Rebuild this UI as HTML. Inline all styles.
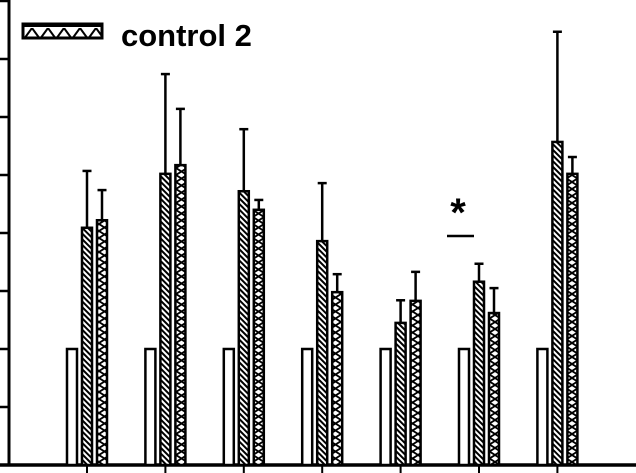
<!DOCTYPE html>
<html><head><meta charset="utf-8"><style>
html,body{margin:0;padding:0;background:#fff;}
svg{display:block;}
</style></head><body>
<svg id="chart" width="636" height="473" viewBox="0 0 636 473" xmlns="http://www.w3.org/2000/svg">
<defs>
<pattern id="hatch" patternUnits="userSpaceOnUse" width="4" height="4" patternTransform="rotate(-45)">
<rect width="4" height="4" fill="#fff"/><rect width="2" height="4" fill="#000"/>
</pattern>
<pattern id="cross" patternUnits="userSpaceOnUse" width="11" height="14">
<rect width="11" height="14" fill="#fff"/>
<path d="M0,0 L11,7 L0,14 M11,0 L0,7 L11,14" stroke="#000" stroke-width="1.8" fill="none"/>
</pattern>
<pattern id="crossh" patternUnits="userSpaceOnUse" width="16" height="14">
<rect width="16" height="14" fill="#fff"/>
<path d="M0,0 L8,11 L16,0 M0,12 L16,12" stroke="#000" stroke-width="2" fill="none"/>
</pattern>
</defs>
<g id="axes"></g>
<g id="bars"></g>
<g>
<rect x="23" y="24" width="79" height="14" fill="url(#crossh)" stroke="#000" stroke-width="3"/>
<text x="121" y="46" font-family="Liberation Sans, sans-serif" font-weight="bold" font-size="31">control 2</text>
</g>
<g>
<text x="458" y="226" text-anchor="middle" font-family="Liberation Sans, sans-serif" font-weight="bold" font-size="40">*</text>
<line x1="447" y1="236" x2="474" y2="236" stroke="#000" stroke-width="2.5"/>
</g>
</svg>
<script>
const groups = ["g1","g2","g3","g4","g5","g6","g7"];
const control1 = [2.0,2.0,2.0,2.0,2.0,2.0,2.0];
const treated = [4.09,5.02,4.72,3.86,2.45,3.16,5.57];
const treatedErr = [0.98,1.72,1.07,1.0,0.39,0.31,1.9];
const control2 = [4.22,5.17,4.40,2.98,2.83,2.62,5.02];
const control2Err = [0.52,0.97,0.17,0.31,0.5,0.43,0.29];
const yTicks = [0,1,2,3,4,5,6,7,8];

const NS="http://www.w3.org/2000/svg";
const y0=465, unit=58, x0=87, step=78.4;
const y = v => y0 - v*unit;
const xc = i => x0 + i*step;
function mk(tag, attrs, parent){const e=document.createElementNS(NS,tag);for(const k in attrs)e.setAttribute(k,attrs[k]);parent.appendChild(e);return e;}
const axes=document.getElementById('axes'), bars=document.getElementById('bars');

let ax=mk('line',{x1:9,y1:0,x2:9,y2:466,stroke:'#000','stroke-width':3},axes);


let bx=mk('line',{x1:0,y1:y0,x2:636,y2:y0,stroke:'#000','stroke-width':3.5},axes);


yTicks.forEach(t=>{
  const l=mk('line',{x1:0,y1:y(t),x2:9,y2:y(t),stroke:'#000','stroke-width':2.5},axes);
  
  
});
groups.forEach((g,i)=>{
  const t=mk('line',{x1:xc(i),y1:y0,x2:xc(i),y2:y0+8,stroke:'#000','stroke-width':2},axes);
  
  
  const c=xc(i);
  const b1=mk('rect',{x:c-20,y:y(control1[i]),width:10,height:y0-y(control1[i]),fill:'#fff',stroke:'#000','stroke-width':2.5},bars);
  
  
  function err(cx,v,e){
    const l=mk('line',{x1:cx,y1:y(v),x2:cx,y2:y(v+e),stroke:'#000','stroke-width':2.5},bars);
    
    
    const cap=mk('line',{x1:cx-4.5,y1:y(v+e),x2:cx+4.5,y2:y(v+e),stroke:'#000','stroke-width':2.5},bars);
    
    
  }
  err(c,treated[i],treatedErr[i]);
  err(c+15,control2[i],control2Err[i]);
  const b2=mk('rect',{x:c-5,y:y(treated[i]),width:10,height:y0-y(treated[i]),fill:'url(#hatch)',stroke:'#000','stroke-width':2.5},bars);
  
  
  const b3=mk('rect',{x:c+10,y:y(control2[i]),width:10,height:y0-y(control2[i]),fill:'url(#cross)',stroke:'#000','stroke-width':2.5},bars);
  
  
});
</script>
</body></html>
